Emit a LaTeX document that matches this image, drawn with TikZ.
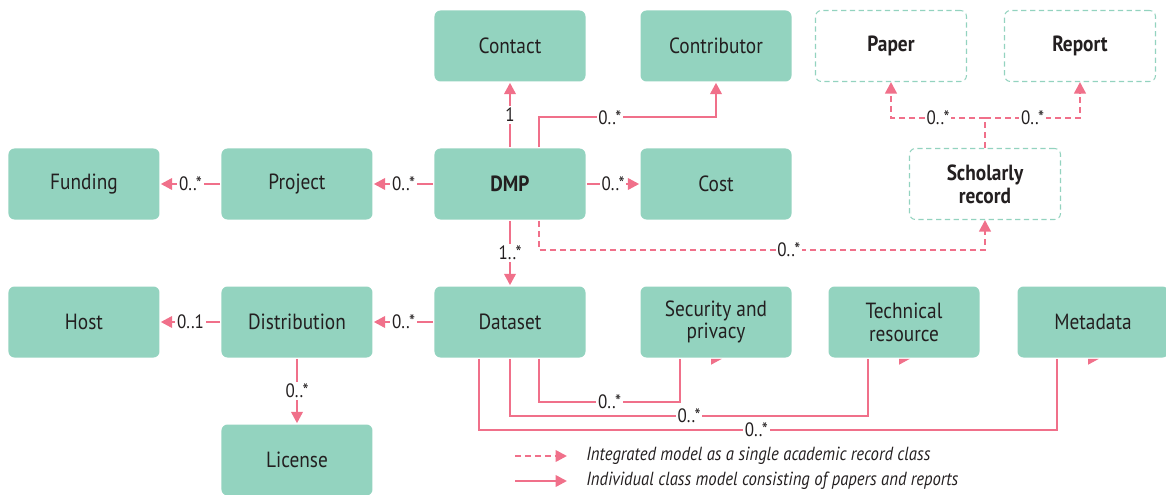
\documentclass[tikz,border=0pt]{standalone}
\usepackage{fontspec}
\setmainfont{PT Sans}[FakeStretch=0.88]
\usetikzlibrary{arrows.meta,positioning}
\definecolor{boxteal}{HTML}{93D3BF}
\definecolor{linkpink}{HTML}{F0708A}
\definecolor{txtgray}{HTML}{231F20}

\begin{document}
\begin{tikzpicture}[node distance = 2.76cm and 4.26cm, on grid, line width = 0.05cm, text = txtgray,
  cls/.style = {fill = boxteal, rounded corners = 0.12cm, minimum width = 3.02cm, minimum height = 1.42cm, align = center, font = \fontsize{12.5}{13}\selectfont},
  scls/.style = {draw = boxteal, line width = 0.6pt, dash pattern = on 3pt off 2pt, rounded corners = 0.12cm, minimum width = 3.02cm, minimum height = 1.42cm, align = center, font = \bfseries\fontsize{12.5}{13}\selectfont},
  link/.style = {draw = linkpink, -{Triangle[length = 0.23cm, width = 0.23cm]}},
  plain/.style = {draw = linkpink},
  dlink/.style = {link, dash pattern = on 0.12cm off 0.08cm},
  lbl/.style = {fill = white, inner sep = 1pt, font = \fontsize{11}{11}\selectfont},
  legend/.style = {anchor = west, inner sep = 0pt, font = \itshape\fontsize{10.8}{12}\selectfont}]

\useasboundingbox (-10.2,-6.22) rectangle (13.12,3.68);

\node[cls] (dmp) {\textbf{DMP}};
\node[cls, above = of dmp] (contact) {Contact};
\node[cls, right = 4.12cm of contact] (contrib) {Contributor};
\node[cls, right = 4.12cm of dmp] (cost) {Cost};
\node[cls, left = of dmp] (project) {Project};
\node[cls, left = of project] (funding) {Funding};
\node[cls, below = of dmp] (dataset) {Dataset};
\node[cls, left = of dataset] (distrib) {Distribution};
\node[cls, left = of distrib] (host) {Host};
\node[cls, below = of distrib] (license) {License};
\node[cls, right = 4.12cm of dataset] (security) {Security and\\privacy};
\node[cls, right = 3.76cm of security] (tech) {Technical\\resource};
\node[cls, right = 3.78cm of tech] (meta) {Metadata};

\node[scls, right = 5.38cm of cost] (record) {Scholarly\\record};
\node[scls, above left = 2.76cm and 1.88cm of record] (paper) {Paper};
\node[scls, above right = 2.76cm and 1.9cm of record] (report) {Report};

\path (dmp) edge[link] node[lbl]{1} (contact);
\path (dmp) edge[link] node[lbl]{0..*} (cost);
\path (dmp) edge[link] node[lbl]{0..*} (project);
\path (project) edge[link] node[lbl]{0..*} (funding);
\path (dmp) edge[link] node[lbl]{1..*} (dataset);
\path (dataset) edge[link] node[lbl]{0..*} (distrib);
\path (distrib) edge[link] node[lbl]{0..1} (host);
\path (distrib) edge[link] node[lbl]{0..*} (license);

\draw[link] ([xshift = 0.58cm]dmp.north) -- ++(0,0.6) -| node[lbl, pos = 0.2]{0..*} (contrib.south);

% scholarly record branch
\draw[dlink] ([xshift = 0.58cm]dmp.south) -- ++(0,-0.58) -| node[lbl, pos = 0.28]{0..*} (record.south);
\draw[dlink] (record.north) -- ++(0,0.6) coordinate (fork) -| node[lbl, pos = 0.25]{0..*} (paper.south);
\draw[dlink] (fork) -| node[lbl, pos = 0.25]{0..*} (report.south);

% dataset parts
\draw[plain] ([xshift = 0.58cm]dataset.south) -- ++(0,-0.86) -| node[lbl, pos = 0.25]{0..*} ([xshift = -0.72cm]security.south);
\draw[plain] (dataset.south) -- ++(0,-1.14) -| node[lbl, pos = 0.25]{0..*} ([xshift = -0.72cm]tech.south);
\draw[plain] ([xshift = -0.62cm]dataset.south) -- ++(0,-1.42) -| node[lbl, pos = 0.24]{0..*} ([xshift = -0.72cm]meta.south);
\foreach \n in {security, tech, meta}
  \fill[linkpink] ([xshift = -0.1cm]\n.south) -- ++(0,-0.12) -- ([xshift = 0.12cm]\n.south) -- cycle;

% legend
\node[legend] (key1) at (1.5,-5.44) {Integrated model as a single academic record class};
\node[legend] (key2) at (1.5,-5.94) {Individual class model consisting of papers and reports};
\draw[dlink] ([xshift = -1.4cm]key1.west) -- ([xshift = -0.36cm]key1.west);
\draw[link] ([xshift = -1.4cm]key2.west) -- ([xshift = -0.36cm]key2.west);
\end{tikzpicture}
\end{document}
